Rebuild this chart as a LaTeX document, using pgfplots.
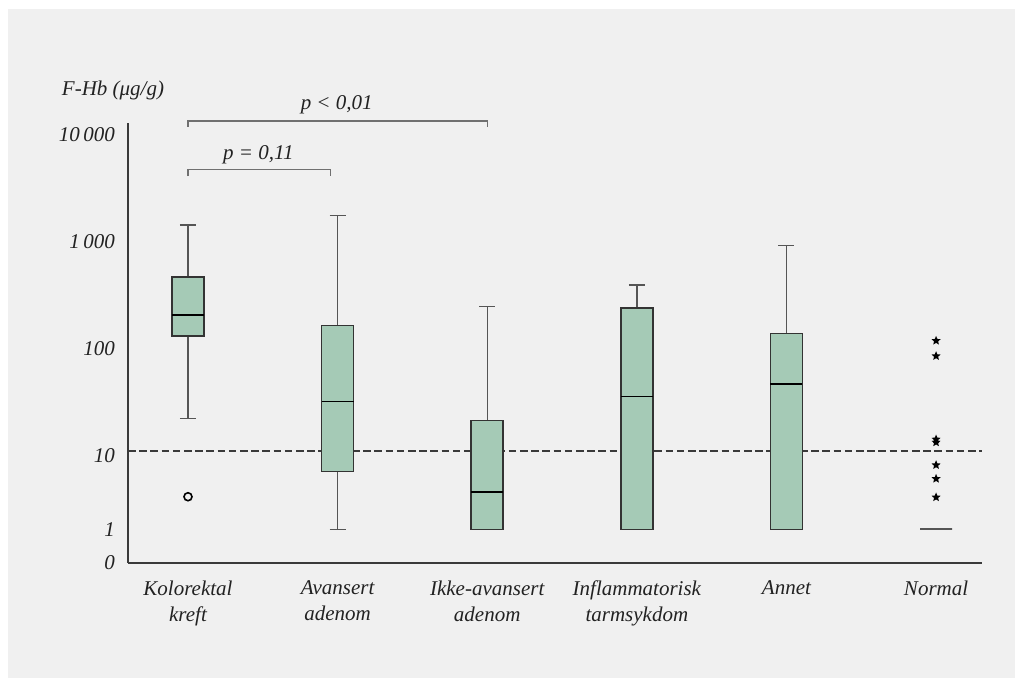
\documentclass[border=0pt]{standalone}
\usepackage{pgfplots}
\pgfplotsset{compat=1.18}
\usepgfplotslibrary{statistics}
\usepackage{fontspec}
\setmainfont{Liberation Serif}
\definecolor{bg}{HTML}{F0F0F0}
\definecolor{boxfill}{HTML}{A5CAB6}
\definecolor{ink}{HTML}{222222}
\definecolor{axisgray}{HTML}{3A3A3A}
\definecolor{boxedge}{HTML}{333333}
\definecolor{whisk}{HTML}{555555}
\definecolor{brack}{HTML}{707070}
\pgfdeclareplotmark{fivestar}{%
  \pgfpathmoveto{\pgfpointpolar{90}{\pgfplotmarksize}}%
  \pgfpathlineto{\pgfpointpolar{126}{0.45\pgfplotmarksize}}%
  \pgfpathlineto{\pgfpointpolar{162}{\pgfplotmarksize}}%
  \pgfpathlineto{\pgfpointpolar{198}{0.45\pgfplotmarksize}}%
  \pgfpathlineto{\pgfpointpolar{234}{\pgfplotmarksize}}%
  \pgfpathlineto{\pgfpointpolar{270}{0.45\pgfplotmarksize}}%
  \pgfpathlineto{\pgfpointpolar{306}{\pgfplotmarksize}}%
  \pgfpathlineto{\pgfpointpolar{342}{0.45\pgfplotmarksize}}%
  \pgfpathlineto{\pgfpointpolar{18}{\pgfplotmarksize}}%
  \pgfpathlineto{\pgfpointpolar{54}{0.45\pgfplotmarksize}}%
  \pgfpathclose\pgfusepathqfill}
\newcommand{\lbl}{\itshape\fontsize{10.5}{13}\selectfont}
\begin{document}
\begin{tikzpicture}
\fill[white] (0,0) rectangle (511.5pt,343pt);
\fill[bg] (4pt,4pt) rectangle (507.5pt,338.5pt);
% y values are log10(F-Hb + 1) positions
\begin{axis}[
  at={(64pt,61.65pt)}, anchor=south west,
  scale only axis, width=427pt, height=219.85pt,
  xmin=-0.401, xmax=5.307, ymin=0, ymax=4.106,
  axis lines*=left,
  axis line style={axisgray, line width=1pt},
  clip=false,
  xtick={0,1,2,3,4,5},
  xticklabels={Kolorektal\\kreft, Avansert\\adenom, Ikke-avansert\\adenom, Inflammatorisk\\tarmsykdom, Annet, Normal},
  ytick={0,0.31,1,2,3,4},
  yticklabels={0,1,10,100,1\,000,10\,000},
  major tick length=0pt,
  tick style={draw=none},
  tick label style={font=\lbl, text=ink},
  xticklabel style={align=center, anchor=north, yshift=-5.5pt},
  yticklabel style={anchor=east, xshift=-3pt},
  boxplot/draw direction=y,
  boxplot/box extend=0.214,
  boxplot/whisker extend=0.107,
  boxplot/every box/.style={draw=boxedge, fill=boxfill, line width=0.75pt},
  boxplot/every whisker/.style={draw=whisk, line width=0.7pt},
  boxplot/every median/.style={draw=black, line width=0.7pt},
]
\addplot[densely dashed, dash pattern=on 3.8pt off 1.8pt, axisgray, line width=0.9pt] coordinates {(-0.401,1.046) (5.307,1.046)};

\addplot[boxedge, mark=o, mark size=2pt, mark options={line width=0.8pt, black},
  boxplot prepared={draw position=0, lower whisker=1.348, lower quartile=2.117, median=2.313, upper quartile=2.670, upper whisker=3.153}]
  table[row sep=\\, y index=0] {u\\ 0.616\\};
\addplot[boxedge,
  boxplot prepared={draw position=1, lower whisker=0.308, lower quartile=0.853, median=1.507, upper quartile=2.217, upper whisker=3.240}]
  coordinates {};
\addplot[boxedge,
  boxplot prepared={draw position=2, lower whisker=0.312, lower quartile=0.312, median=0.660, upper quartile=1.330, upper whisker=2.390}]
  coordinates {};
\addplot[boxedge,
  boxplot prepared={draw position=3, lower whisker=0.312, lower quartile=0.312, median=1.554, upper quartile=2.378, upper whisker=2.593}]
  coordinates {};
\addplot[boxedge,
  boxplot prepared={draw position=4, lower whisker=0.312, lower quartile=0.312, median=1.669, upper quartile=2.142, upper whisker=2.960}]
  coordinates {};
\addplot[whisk, mark=fivestar, mark size=2.4pt, mark options={black},
  boxplot prepared={draw position=5, lower whisker=0.312, lower quartile=0.312, median=0.312, upper quartile=0.312, upper whisker=0.312},
  boxplot/every box/.style={draw=whisk, line width=1pt},
  boxplot/every median/.style={draw=whisk, line width=1pt},
  boxplot/every whisker/.style={draw=none}]
  table[row sep=\\, y index=0] {u\\ 2.073\\ 1.930\\ 1.152\\ 1.124\\ 0.912\\ 0.784\\ 0.611\\};

\draw[brack, line width=0.6pt] (axis cs:0,4.071) -- (axis cs:0,4.124) -- (axis cs:2,4.124) -- (axis cs:2,4.071);
\draw[brack, line width=0.6pt] (axis cs:0,3.611) -- (axis cs:0,3.673) -- (axis cs:0.954,3.673) -- (axis cs:0.954,3.611);
\node[font=\lbl, text=ink] at (axis cs:0.994,4.274) {p < 0,01};
\node[font=\lbl, text=ink] at (axis cs:0.470,3.807) {p = 0,11};
\node[font=\lbl, text=ink, anchor=west, inner sep=0pt] at (axis cs:-0.845,4.413) {F-Hb (μg/g)};
\end{axis}
\end{tikzpicture}
\end{document}
